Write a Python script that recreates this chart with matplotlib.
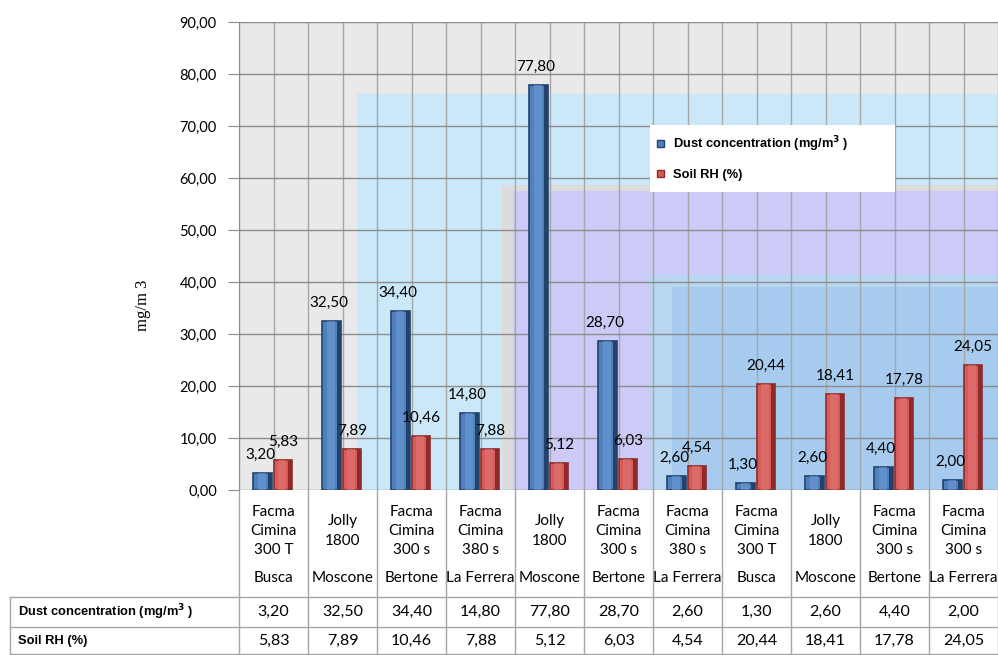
import matplotlib
matplotlib.use('Agg')
import matplotlib.pyplot as plt
from matplotlib.patches import Rectangle

# --- DATA ---
models = ['Facma\nCimina\n300 T', 'Jolly\n1800', 'Facma\nCimina\n300 s', 'Facma\nCimina\n380 s',
          'Jolly\n1800', 'Facma\nCimina\n300 s', 'Facma\nCimina\n380 s', 'Facma\nCimina\n300 T',
          'Jolly\n1800', 'Facma\nCimina\n300 s', 'Facma\nCimina\n300 s']
sites = ['Busca', 'Moscone', 'Bertone', 'La Ferrera', 'Moscone', 'Bertone', 'La Ferrera',
         'Busca', 'Moscone', 'Bertone', 'La Ferrera']
dust = [3.20, 32.50, 34.40, 14.80, 77.80, 28.70, 2.60, 1.30, 2.60, 4.40, 2.00]
soil_rh = [5.83, 7.89, 10.46, 7.88, 5.12, 6.03, 4.54, 20.44, 18.41, 17.78, 24.05]
y_ticks = [0, 10, 20, 30, 40, 50, 60, 70, 80, 90]

W, H = 998, 655
FONT = 'Lato'

def fmt(v):
    return f'{v:.2f}'.replace('.', ',')

def fy(py):
    # pixel row -> figure fraction
    return 1 - py / H

fig = plt.figure(figsize=(W / 100, H / 100), dpi=100)
ax = fig.add_axes([239 / W, fy(490), (998 - 239) / W, (490 - 22) / H])
ax.set_facecolor('#e9e9e9')
ax.set_xlim(-0.5, 10.5)
ax.set_ylim(0, 90)

# odd coloured panels behind the plot (as in the original screenshot)
panels = [
    (0.155, 0.846, '#cbe8f9'),
    (0.3465, 0.652, '#dcdcdc'),
    (0.361, 0.639, '#cccaf7'),
    (0.5415, 0.459, '#b9d7f1'),
    (0.570, 0.434, '#a6cbee'),
]
for x0, y1, col in panels:
    ax.add_patch(Rectangle((x0, 0), 1 - x0, y1, transform=ax.transAxes,
                           facecolor=col, edgecolor='none', zorder=0))

# grid
for x in [i * 0.5 - 0.5 for i in range(23)]:
    ax.axvline(x, color='#a6a6a6', lw=1, zorder=1)
for y in y_ticks:
    ax.axhline(y, color='#8c8c8c', lw=1, zorder=1)

ax.set_yticks(y_ticks)
ax.set_yticklabels([fmt(v) for v in y_ticks], fontsize=10.5, family=FONT)
ax.tick_params(axis='y', length=8, color='#8c8c8c', pad=8)
ax.set_xticks([])
for s in ['top', 'right', 'bottom']:
    ax.spines[s].set_visible(False)
ax.spines['left'].set_color('#8c8c8c')

# bars with a simple bevel look
bw = 0.27
def bar3d(x, h, face, dark, light):
    ax.add_patch(Rectangle((x, 0), bw, h, facecolor=face, edgecolor=dark, lw=1.2, zorder=3))
    ax.add_patch(Rectangle((x + bw * 0.78, 0), bw * 0.22, h, facecolor=dark,
                           edgecolor='none', zorder=4))
    ax.add_patch(Rectangle((x + bw * 0.25, 0), bw * 0.4, h, facecolor=light,
                           edgecolor='none', alpha=0.6, zorder=4))

for i, (d, s) in enumerate(zip(dust, soil_rh)):
    bar3d(i - 0.29, d, '#4f81bd', '#23426b', '#6c9ad6')
    bar3d(i + 0.0, s, '#d65c5a', '#8e2b2a', '#e07472')
    ax.annotate(fmt(d), (i - 0.29 + bw / 2, d), xytext=(-2, 8), textcoords='offset points',
                ha='center', va='bottom', fontsize=11, family=FONT, zorder=5)
    ax.annotate(fmt(s), (i + bw / 2, s), xytext=(0, 8), textcoords='offset points',
                ha='center', va='bottom', fontsize=11, family=FONT, zorder=5)

fig.text(143 / W, fy(305), 'mg/m 3', rotation=90, ha='center', va='center',
         fontsize=12, family='Liberation Serif')

# legend box
fig.patches.append(Rectangle((650 / W, fy(192)), 245 / W, 67 / H, transform=fig.transFigure,
                             facecolor='white', edgecolor='none', zorder=6))
fig.patches.append(Rectangle((657 / W, fy(147)), 7 / W, 7 / H, transform=fig.transFigure,
                             facecolor='#4f81bd', edgecolor='#23426b', zorder=7))
fig.patches.append(Rectangle((657 / W, fy(177)), 7 / W, 7 / H, transform=fig.transFigure,
                             facecolor='#d65c5a', edgecolor='#8e2b2a', zorder=7))
fig.text(673 / W, fy(144), r'Dust concentration (mg/m$^\mathbf{3}$ )', fontsize=9.3,
         weight='bold', family='Liberation Sans', va='center', zorder=8)
fig.text(673 / W, fy(175), 'Soil RH (%)', fontsize=9.3, weight='bold',
         family='Liberation Sans', va='center', zorder=8)

# data table under the axis
line_c = '#a6a6a6'
trans = ax.get_xaxis_transform()
def ay(py):
    return (490 - py) / 468

for k in range(12):
    x = k - 0.5
    ax.plot([x, x], [ay(490), ay(655)], transform=trans, color=line_c, lw=1, clip_on=False)
for py in [597, 627, 654]:
    fig.add_artist(plt.Line2D([10 / W, 1], [fy(py), fy(py)], color=line_c, lw=1))
fig.add_artist(plt.Line2D([10 / W, 10 / W], [fy(597), fy(655)], color=line_c, lw=1))

for i in range(len(models)):
    ax.text(i, ay(531), models[i], transform=trans, ha='center', va='center', fontsize=11,
            family=FONT, linespacing=1.5, multialignment='center', clip_on=False)
    ax.text(i, ay(578), sites[i], transform=trans, ha='center', va='center', fontsize=11,
            family=FONT, clip_on=False)
    ax.text(i, ay(612), fmt(dust[i]), transform=trans, ha='center', va='center',
            fontsize=11.5, family=FONT, clip_on=False)
    ax.text(i, ay(641), fmt(soil_rh[i]), transform=trans, ha='center', va='center',
            fontsize=11.5, family=FONT, clip_on=False)

fig.text(18 / W, fy(612), r'Dust concentration (mg/m$^\mathbf{3}$ )', fontsize=9.3,
         weight='bold', family='Liberation Sans', va='center')
fig.text(18 / W, fy(641), 'Soil RH (%)', fontsize=9.3, weight='bold',
         family='Liberation Sans', va='center')

fig.savefig('out.png', dpi=100, facecolor='white')
